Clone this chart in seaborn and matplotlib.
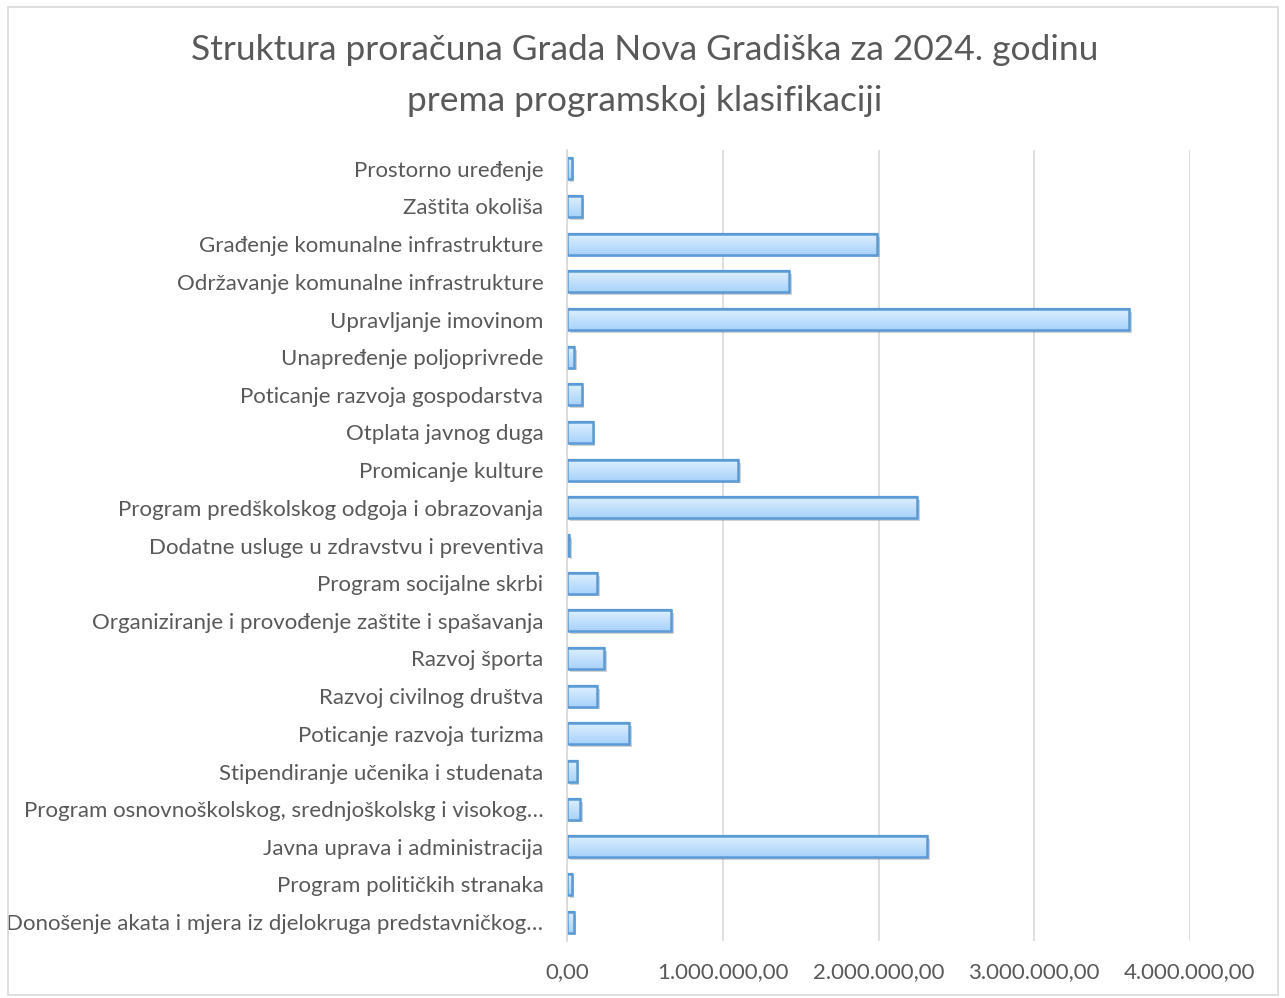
import numpy as np
import pandas as pd
import seaborn as sns
import matplotlib.pyplot as plt
import matplotlib.patheffects as pe
from matplotlib.patches import Rectangle
from matplotlib.ticker import FuncFormatter

programi = [
    "Prostorno uređenje",
    "Zaštita okoliša",
    "Građenje komunalne infrastrukture",
    "Održavanje komunalne infrastrukture",
    "Upravljanje imovinom",
    "Unapređenje poljoprivrede",
    "Poticanje razvoja gospodarstva",
    "Otplata javnog duga",
    "Promicanje kulture",
    "Program predškolskog odgoja i obrazovanja",
    "Dodatne usluge u zdravstvu i preventiva",
    "Program socijalne skrbi",
    "Organiziranje i provođenje zaštite i spašavanja",
    "Razvoj športa",
    "Razvoj civilnog društva",
    "Poticanje razvoja turizma",
    "Stipendiranje učenika i studenata",
    "Program osnovnoškolskog, srednjoškolskg i visokog…",
    "Javna uprava i administracija",
    "Program političkih stranaka",
    "Donošenje akata i mjera iz djelokruga predstavničkog…",
]
iznosi = [
    30000, 94000, 1991000, 1424000, 3610000, 47000, 94000, 165000,
    1098000, 2250000, 13000, 195000, 670000, 238000, 195000, 400000,
    62000, 82000, 2312000, 30000, 43000,
]

df = pd.DataFrame({"program": programi, "iznos": iznosi})

sns.set_style("white")
plt.rcParams["font.family"] = ["Lato", "DejaVu Sans"]
siva = "#595959"

fig = plt.figure(figsize=(12.85, 9.98), dpi=100)
ax = fig.add_axes([567 / 1285, 1 - 941 / 998, (1190 - 567) / 1285, (941 - 150) / 998])

sns.barplot(data=df, x="iznos", y="program", orient="h", ax=ax,
            color="#bddcfa", edgecolor="#5b9bd5", linewidth=1.6, width=0.55)

# gradijent i sjena na stupcima
grad = np.linspace(0, 1, 50).reshape(-1, 1)
cmap = sns.blend_palette(["#ddefff", "#a8d2fa"], as_cmap=True)
for p in ax.patches:
    p.set_path_effects([pe.SimplePatchShadow(offset=(2, -2), shadow_rgbFace="#808080", alpha=0.35),
                        pe.Normal()])
    x0, y0 = p.get_x(), p.get_y()
    w, h = p.get_width(), p.get_height()
    im = ax.imshow(grad, extent=[x0, x0 + w, y0 + h, y0], cmap=cmap, aspect="auto",
                   zorder=p.get_zorder() + 0.1, origin="upper")
    im.set_clip_path(p)
    p2 = Rectangle((x0, y0), w, h, fill=False, edgecolor="#5b9bd5", linewidth=1.8,
                   zorder=p.get_zorder() + 0.2)
    ax.add_patch(p2)

ax.set_xlim(0, 4000000)
ax.set_ylim(20.5, -0.5)
ax.set_xticks([0, 1000000, 2000000, 3000000, 4000000])
ax.xaxis.set_major_formatter(FuncFormatter(
    lambda v, _: f"{v:,.2f}".replace(",", "X").replace(".", ",").replace("X", ".")))
ax.grid(axis="x", color="#d9d9d9", linewidth=1.2)
ax.set_axisbelow(True)
for s in ["top", "right", "bottom"]:
    ax.spines[s].set_visible(False)
ax.spines["left"].set_color("#d9d9d9")
ax.spines["left"].set_linewidth(1.2)
ax.tick_params(axis="both", length=0, labelsize=16, labelcolor=siva)
ax.tick_params(axis="x", pad=15)
ax.tick_params(axis="y", pad=17)
ax.set_xlabel("")
ax.set_ylabel("")

fig.text(0.502, 0.95, "Struktura proračuna Grada Nova Gradiška za 2024. godinu",
         ha="center", va="center", fontsize=25.5, color=siva)
fig.text(0.502, 0.899, "prema programskoj klasifikaciji",
         ha="center", va="center", fontsize=25.5, color=siva)

fig.patches.append(Rectangle((8 / 1285, 1 - 995 / 998), 1270 / 1285, 988 / 998,
                             transform=fig.transFigure, fill=False,
                             edgecolor="#d9d9d9", linewidth=1.2))

fig.savefig("out.png", dpi=100)
